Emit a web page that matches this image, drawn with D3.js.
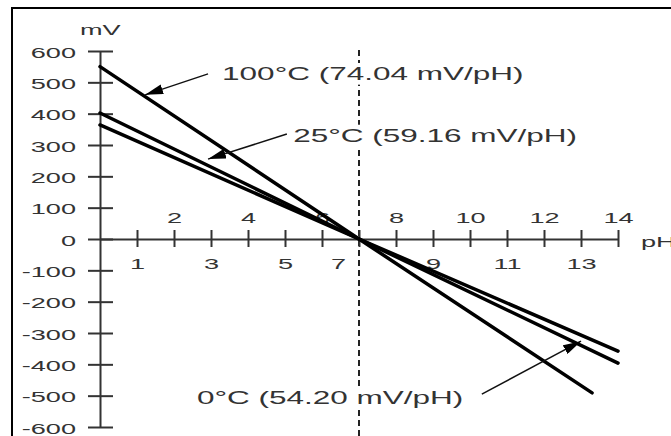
<!DOCTYPE html>
<html><head><meta charset="utf-8">
<script src="https://cdn.jsdelivr.net/npm/d3@7"></script>
<style>html,body{margin:0;padding:0;background:#fff;overflow:hidden}</style>
</head><body>
<svg id="c" width="671" height="436"></svg>
<script>
// ---- data ----
const yTicks = [-600,-500,-400,-300,-200,-100,0,100,200,300,400,500,600];
const xTicks = [1,2,3,4,5,6,7,8,9,10,11,12,13,14];
const pH100 = [0, 7, 13.3];
const mV100 = [550, 0, -491];
const pH25 = [0, 7, 14];
const mV25 = [402, 0, -396];
const pH0 = [0, 7, 14];
const mV0 = [364, 0, -358];
const labels = ["100°C (74.04 mV/pH)", "25°C (59.16 mV/pH)", "0°C (54.20 mV/pH)"];
const arrowFrom = [[2.92, 527], [5.05, 335], [10.32, -495]];
const arrowTo = [[1.22, 460], [2.92, 255], [13.0, -326]];
const labelAt = [[3.3, 507], [5.22, 310], [2.62, -527]];
const yUnit = "mV", xUnit = "pH";

const svg = d3.select("#c");
const SX = 1.75;
const font = "'Liberation Sans', Arial, sans-serif";
const col = "#333";

const x = d3.scaleLinear().domain([0, 14]).range([100, 618]);
const y = d3.scaleLinear().domain([-600, 600]).range([427, 51]);

// frame
svg.append("rect").attr("x", 12).attr("y", 8).attr("width", 720).attr("height", 520)
  .attr("fill", "none").attr("stroke", "#000").attr("stroke-width", 2);

function stext(g, tx, ty, s, size, anchor) {
  return g.append("text").attr("transform", `translate(${tx},${ty}) scale(${SX},1)`)
    .attr("text-anchor", anchor || "start").attr("font-family", font)
    .attr("font-size", size).attr("fill", col).text(s);
}

// dashed vertical line at pH 7
svg.append("line").attr("x1", x(7)).attr("x2", x(7)).attr("y1", 50).attr("y2", 440)
  .attr("stroke", "#222").attr("stroke-width", 2).attr("stroke-dasharray", "6,4");

// annotation labels (with white background hiding the dashed line)
labels.forEach((s, i) => {
  const tx = x(labelAt[i][0]), ty = y(labelAt[i][1]);
  const bg = svg.append("rect").attr("fill", "#fff");
  const t = stext(svg, tx, ty, s, 18, "start");
  const b = t.node().getBBox();
  bg.attr("x", tx + b.x * SX - 2).attr("y", ty + b.y - 1)
    .attr("width", b.width * SX + 4).attr("height", b.height + 2);
});

// y axis
const ya = svg.append("g").attr("transform", `translate(${x(0)},0)`)
  .call(d3.axisLeft(y).tickValues(yTicks).tickSize(0).tickSizeOuter(0).tickFormat(""));
ya.select(".domain").attr("stroke", col).attr("stroke-width", 2);
ya.selectAll(".tick").append("line").attr("x1", -12).attr("x2", 13)
  .attr("stroke", col).attr("stroke-width", 2);
ya.selectAll(".tick").each(function(d) {
  stext(d3.select(this), -24, 6, String(d), 15.5, "end");
});

// x axis
const xa = svg.append("g").attr("transform", `translate(0,${y(0)})`)
  .call(d3.axisBottom(x).tickValues(xTicks).tickSize(0).tickSizeOuter(0).tickFormat(""));
xa.select(".domain").attr("stroke", col).attr("stroke-width", 2);
xa.selectAll(".tick").append("line").attr("y1", -9).attr("y2", 8)
  .attr("stroke", col).attr("stroke-width", 2);
xa.selectAll(".tick").each(function(d) {
  const g = d3.select(this);
  if (d % 2 === 0) stext(g, 0, -16, String(d), 15.5, "middle");
  else stext(g, d === 7 ? -21 : 0, 30, String(d), 15.5, "middle");
});

// units
stext(svg, 80, 35, yUnit, 15.5, "start");
stext(svg, 641, 247, xUnit, 15.5, "start");

// lines
const line = d3.line().x(d => x(d[0])).y(d => y(d[1]));
[[pH100, mV100], [pH25, mV25], [pH0, mV0]].forEach(([px, mv]) => {
  svg.append("path").datum(px.map((p, i) => [p, mv[i]]))
    .attr("d", line).attr("fill", "none").attr("stroke", "#000")
    .attr("stroke-width", 3.5).attr("stroke-linecap", "round");
});

// arrows
svg.append("defs").append("marker").attr("id", "ah")
  .attr("viewBox", "0 0 18 10").attr("refX", 18).attr("refY", 5)
  .attr("markerWidth", 18).attr("markerHeight", 10).attr("orient", "auto")
  .attr("markerUnits", "userSpaceOnUse")
  .append("path").attr("d", "M0,0 L18,5 L0,10 Z").attr("fill", "#000");

labels.forEach((s, i) => {
  svg.append("line")
    .attr("x1", x(arrowFrom[i][0])).attr("y1", y(arrowFrom[i][1]))
    .attr("x2", x(arrowTo[i][0])).attr("y2", y(arrowTo[i][1]))
    .attr("stroke", "#111").attr("stroke-width", 1.5).attr("marker-end", "url(#ah)");
});
</script>
</body></html>
